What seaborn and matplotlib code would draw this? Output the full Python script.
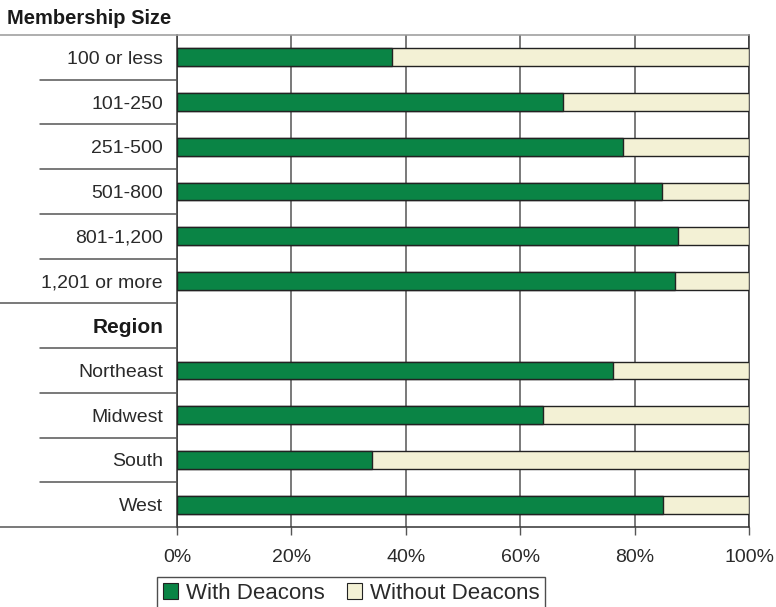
import matplotlib
matplotlib.use("Agg")
import matplotlib.pyplot as plt
import matplotlib.transforms as mtransforms
from matplotlib.patches import Patch
import seaborn as sns
import pandas as pd

# ---- data ----
categories = ["100 or less", "101-250", "251-500", "501-800", "801-1,200",
              "1,201 or more", "Northeast", "Midwest", "South", "West"]
with_deacons = [37.6, 67.5, 78.0, 84.8, 87.5, 87.1, 76.2, 63.9, 34.1, 85.0]
total = [100, 100, 100, 100, 100, 100, 100, 100, 100, 100]
group_titles = ["Membership Size", "Region"]
order = categories[:6] + ["Region"] + categories[6:]
x_ticks = [0, 20, 40, 60, 80, 100]
x_tick_labels = ["0%", "20%", "40%", "60%", "80%", "100%"]
series_names = ["With Deacons", "Without Deacons"]

GREEN = "#0a8445"
CREAM = "#f3f1d5"
EDGE = "#222222"
TEXT = "#2a2a2a"
LINE = "#555555"

sns.set_theme(style="white")
plt.rcParams["font.family"] = ["Liberation Sans", "DejaVu Sans"]

df = pd.DataFrame({"category": categories, "with": with_deacons, "total": total})

fig = plt.figure(figsize=(7.76, 6.07), dpi=100)
ax = fig.add_axes([177 / 776, 1 - 527 / 607, (749 - 177) / 776, (527 - 35) / 607])

sns.barplot(data=df, y="category", x="total", order=order, color=CREAM,
            orient="h", width=0.4, edgecolor=EDGE, linewidth=1.0, ax=ax,
            saturation=1, zorder=3)
sns.barplot(data=df, y="category", x="with", order=order, color=GREEN,
            orient="h", width=0.4, edgecolor=EDGE, linewidth=1.0, ax=ax,
            saturation=1, zorder=4)

ax.set_xlim(0, 100)
ax.set_ylim(10.5, -0.5)
ax.set_xlabel("")
ax.set_ylabel("")
ax.set_xticks(x_ticks)
ax.set_xticklabels(x_tick_labels, fontsize=14, color=TEXT)
ax.tick_params(axis="x", which="major", bottom=True, length=6, width=1,
               color=LINE, pad=10)
ax.tick_params(axis="y", length=0, pad=10)
for lbl in ax.get_yticklabels():
    lbl.set_fontsize(14)
    lbl.set_color(TEXT)
    if lbl.get_text() == "Region":
        lbl.set_fontweight("heavy")
        lbl.set_fontsize(15)
        lbl.set_color("#1a1a1a")

ax.grid(axis="x", color=LINE, linewidth=1.1, zorder=1)
ax.grid(axis="y", visible=False)
for side in ["left", "right", "top", "bottom"]:
    ax.spines[side].set_visible(True)
    ax.spines[side].set_linewidth(1.1)
ax.spines["left"].set_color("#333333")
ax.spines["right"].set_color("#333333")
ax.spines["top"].set_color("#999999")
ax.spines["bottom"].set_color("#333333")

# separator lines in the label area
trans = mtransforms.blended_transform_factory(ax.transAxes, ax.transData)
x_full = -177 / 572
x_short = (40 - 177) / 572
boundaries = [-0.5, 0.5, 1.5, 2.5, 3.5, 4.5, 5.5, 6.5, 7.5, 8.5, 9.5, 10.5]
for b in boundaries:
    start = x_full if b in (-0.5, 5.5, 10.5) else x_short
    color = "#999999" if b == -0.5 else LINE
    ax.plot([start, 0], [b, b], transform=trans, color=color, linewidth=1.1,
            clip_on=False, zorder=5)

fig.text(7 / 776, 1 - 18 / 607, group_titles[0], fontsize=14.5, fontweight="heavy",
         color="#1a1a1a", ha="left", va="center")

handles = [Patch(facecolor=GREEN, edgecolor=EDGE, linewidth=0.8),
           Patch(facecolor=CREAM, edgecolor=EDGE, linewidth=0.8)]
leg = fig.legend(handles, series_names, loc="upper left",
                 bbox_to_anchor=(157 / 776, 1 - 577 / 607), ncol=2,
                 fontsize=16, frameon=True, fancybox=False, borderpad=0.25,
                 handlelength=0.7, handleheight=0.7, handletextpad=0.35,
                 columnspacing=1.0, borderaxespad=0)
leg.get_frame().set_edgecolor("#222222")
leg.get_frame().set_linewidth(1.0)
for t in leg.get_texts():
    t.set_color(TEXT)

fig.savefig("out.png", dpi=100)
